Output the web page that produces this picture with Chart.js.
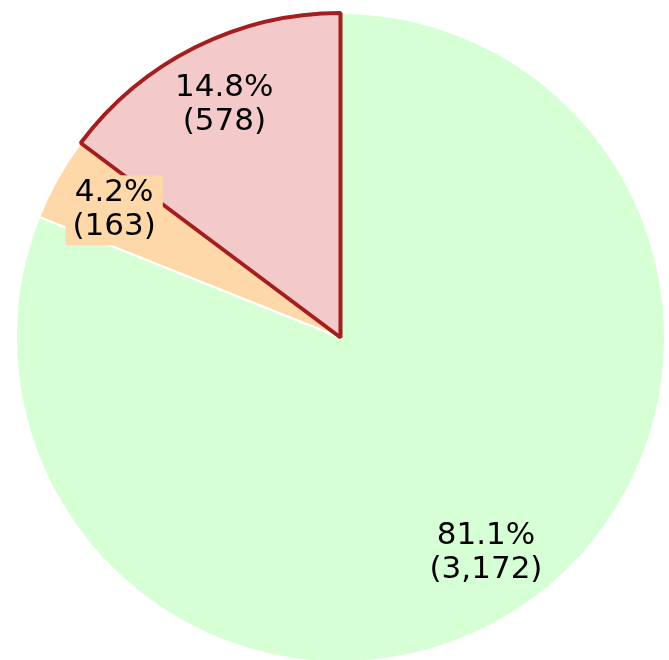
<!DOCTYPE html>
<html>
<head>
<meta charset="utf-8">
<script src="https://cdn.jsdelivr.net/npm/chart.js@4/dist/chart.umd.min.js"></script>
<style>
html,body{margin:0;padding:0;background:#fff;overflow:hidden;width:669px;height:660px;}
#wrap{position:absolute;left:0;top:0;width:669px;height:664px;}
</style>
</head>
<body>
<div id="wrap"><canvas id="c" width="669" height="664"></canvas></div>
<script>
const categories = ["A", "B", "C"];
const values = [3172, 163, 578];
const fillColors = ["#d6ffd6", "#fed8a8", "#f3c9c9"];
const borderColors = ["#ffffff", "#ffffff", "#a31f1f"];
const borderWidths = [2, 2, 4];

const total = values.reduce((a, b) => a + b, 0);

const labelPlugin = {
  id: 'sliceLabels',
  afterDatasetsDraw(chart) {
    const ctx = chart.ctx;
    const meta = chart.getDatasetMeta(0);
    const fontSize = 31;
    const lineH = 34;
    ctx.save();
    ctx.font = fontSize + 'px "DejaVu Sans", Verdana, sans-serif';
    ctx.textAlign = 'center';
    ctx.textBaseline = 'middle';
    meta.data.forEach((arc, i) => {
      const p = arc.getProps(['x', 'y', 'startAngle', 'endAngle', 'outerRadius'], true);
      const mid = (p.startAngle + p.endAngle) / 2;
      const r = p.outerRadius * 0.8;
      const x = p.x + Math.cos(mid) * r;
      const y = p.y + Math.sin(mid) * r;
      const v = values[i];
      const lines = [(v / total * 100).toFixed(1) + '%', '(' + v.toLocaleString('en-US') + ')'];
      const w = Math.max(...lines.map(l => ctx.measureText(l).width)) + 14;
      const h = lines.length * lineH + 2;
      ctx.fillStyle = fillColors[i];
      ctx.fillRect(x - w / 2, y - h / 2, w, h);
      ctx.fillStyle = '#000000';
      lines.forEach((l, k) => {
        ctx.fillText(l, x, y - h / 2 + 1 + lineH * k + lineH / 2);
      });
    });
    ctx.restore();
  }
};

new Chart(document.getElementById('c'), {
  type: 'pie',
  data: {
    labels: categories,
    datasets: [{
      data: values,
      backgroundColor: fillColors,
      borderColor: borderColors,
      borderWidth: borderWidths,
      hoverBorderWidth: borderWidths
    }]
  },
  options: {
    responsive: false,
    devicePixelRatio: 1,
    animation: false,
    layout: { padding: { left: 14, right: 2, top: 11, bottom: 0 } },
    plugins: { legend: { display: false }, tooltip: { enabled: false } },
    events: []
  },
  plugins: [labelPlugin]
});
</script>
</body>
</html>
